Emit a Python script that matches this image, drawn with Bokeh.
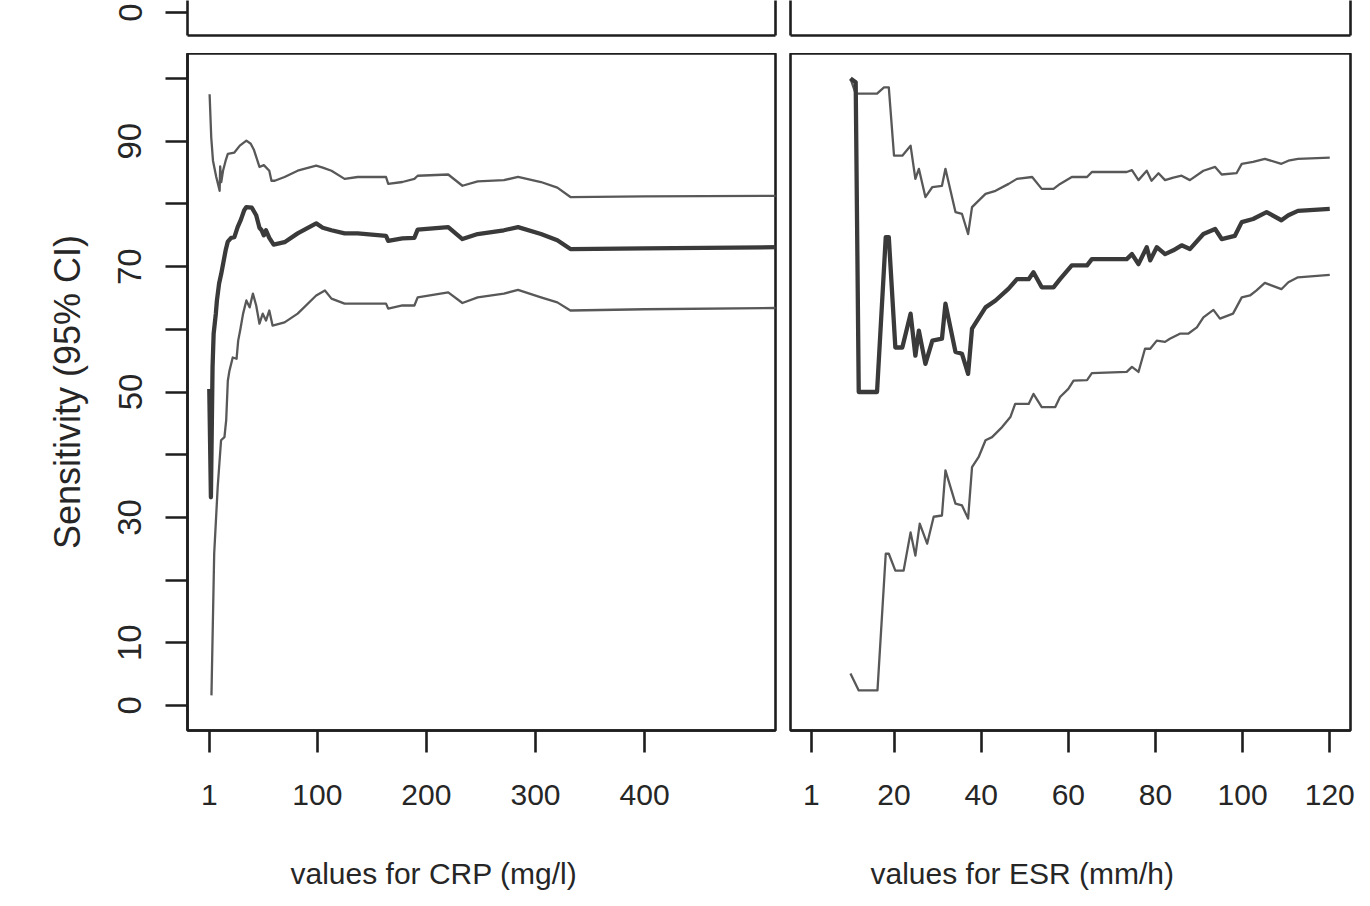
from bokeh.plotting import figure
from bokeh.layouts import column, row
from bokeh.models import Range1d, FixedTicker, LinearAxis, Title
from bokeh.embed import file_html
from bokeh.resources import INLINE

# ---------------- data ----------------
crp_ticks = [1, 100, 200, 300, 400]
esr_ticks = [1, 20, 40, 60, 80, 100, 120]
y_ticks = [0, 10, 20, 30, 40, 50, 60, 70, 80, 90, 100]
y_tick_labels = {0: "0", 10: "10", 20: "", 30: "30", 40: "", 50: "50", 60: "", 70: "70", 80: "", 90: "90", 100: ""}
top_ticks = [0]
crp_label = "values for CRP (mg/l)"
esr_label = "values for ESR (mm/h)"
y_label = "Sensitivity (95% CI)"

crp_mean_x = [1, 2.5, 4, 5, 7, 8, 10, 12, 16, 18, 21, 24, 27, 30, 33, 35, 40, 44, 47, 49, 51, 53, 56, 60,
              70, 82, 99, 105, 113, 125, 137, 163, 165, 178, 189, 192, 220, 233, 247, 271, 284, 305, 320,
              332, 400, 522]
crp_mean_y = [50.5, 33.2, 54, 59.3, 62.5, 64.6, 67.3, 68.9, 72.6, 74, 74.6, 74.7, 76.3, 77.5, 79, 79.5, 79.4,
              78.2, 76.2, 75.8, 75, 75.8, 74.6, 73.5, 73.9, 75.3, 76.9, 76.2, 75.8, 75.3, 75.3, 74.9, 74.1,
              74.5, 74.6, 75.9, 76.3, 74.4, 75.2, 75.8, 76.3, 75.2, 74.2, 72.8, 72.9, 73.1]

crp_up_x = [1.3, 2.8, 4.4, 7.4, 10.5, 11, 12, 13.6, 16, 18, 24, 29, 35, 39, 42, 47, 51, 56, 58, 61, 70, 82,
            99, 105, 113, 125, 137, 163, 165, 178, 189, 192, 220, 233, 247, 271, 284, 305, 320, 332, 400, 522]
crp_up_y = [97.5, 90.6, 86.9, 84.3, 82.1, 86, 83.5, 85.3, 86.9, 88, 88.2, 89.3, 90.1, 89.6, 88.6, 85.9, 86.2,
            85.3, 83.7, 83.7, 84.3, 85.3, 86.1, 85.8, 85.3, 84.0, 84.3, 84.3, 83.2, 83.5, 84.0, 84.5, 84.7,
            82.9, 83.6, 83.8, 84.3, 83.5, 82.6, 81.1, 81.2, 81.3]

crp_lo_x = [3, 5.5, 8.7, 11.8, 14.9, 16.5, 18, 19.5, 22.5, 26, 27.5, 29.5, 32, 35, 38, 41, 44, 47, 50, 53, 56,
            59, 70, 82, 99, 107, 113, 125, 163, 165, 178, 189, 192, 220, 233, 247, 271, 284, 305, 320, 332,
            400, 522]
crp_lo_y = [1.6, 24.2, 34.8, 42.3, 42.8, 45.5, 51.8, 53.4, 55.5, 55.3, 58.2, 60, 62.5, 64.6, 63.5, 65.7, 63.8,
            60.9, 62.5, 61.4, 63, 60.6, 61.1, 62.5, 65.4, 66.2, 64.9, 64.1, 64.1, 63.3, 63.8, 63.8, 65.1,
            65.9, 64.2, 65.1, 65.7, 66.3, 65.1, 64.3, 63.0, 63.2, 63.4]

esr_mean_x = [10, 11.2, 11.9, 16.1, 18.1, 18.8, 20.3, 21.9, 23.8, 24.9, 25.7, 27.2, 28.8, 31, 31.8, 34.1, 35.6,
              37, 37.9, 41, 43.3, 46.3, 48.2, 50.9, 52, 53.9, 56.6, 58.1, 60.8, 64.3, 65.4, 73.4, 74.6, 76.1,
              78, 78.8, 80.3, 82.2, 84.1, 86, 87.9, 91, 93.7, 95.2, 98.2, 99.8, 102.4, 105.5, 108.9, 110.5,
              112.7, 120]
esr_mean_y = [100, 99.4, 50, 50, 74.7, 74.7, 57.1, 57.1, 62.5, 55.8, 59.8, 54.5, 58.2, 58.5, 64.1, 56.4, 56.1,
              52.9, 60.1, 63.5, 64.6, 66.5, 68, 68, 69.1, 66.7, 66.7, 68, 70.2, 70.2, 71.2, 71.2, 72, 70.4,
              73.1, 71, 73.1, 72, 72.6, 73.4, 72.8, 75.2, 76, 74.4, 74.9, 77.1, 77.6, 78.7, 77.4, 78.2, 78.9,
              79.2]

esr_up_x = [10, 11.2, 16.1, 17.7, 18.8, 20, 21.9, 23.8, 24.9, 25.7, 27.2, 28.8, 31, 31.8, 34.1, 35.6, 37, 37.9,
            41, 43.3, 46.3, 48.2, 51.7, 53.9, 56.6, 58.1, 60.8, 64.3, 65.4, 73.4, 74.6, 76.1, 78, 79.1, 80.7,
            82.2, 84.1, 86, 87.9, 91, 93.7, 95.2, 98.6, 99.8, 102.4, 105.1, 108.9, 110.5, 112.7, 120]
esr_up_y = [100, 97.6, 97.6, 98.6, 98.6, 87.7, 87.7, 89.3, 84, 85.6, 81.1, 82.7, 82.9, 85.6, 78.7, 78.4, 75.2,
            79.5, 81.6, 82.1, 83.2, 84, 84.3, 82.4, 82.4, 83.2, 84.3, 84.3, 85.1, 85.1, 85.4, 83.8, 85.3, 83.7,
            84.9, 83.8, 84.2, 84.5, 83.8, 85.3, 85.9, 84.7, 84.9, 86.4, 86.7, 87.2, 86.4, 86.9, 87.2, 87.4]

esr_lo_x = [10, 11.9, 16.2, 18.1, 18.8, 20.3, 22.2, 23.8, 24.9, 25.9, 27.6, 29.1, 31, 31.8, 34.1, 35.6, 37, 37.9,
            39.4, 41, 42.5, 44.8, 46.7, 47.8, 50.9, 52, 53.9, 57, 58.1, 60, 61.2, 64.3, 65.4, 73.4, 74.6, 76.1,
            77.6, 78.8, 80.3, 82.2, 83.3, 85.6, 87.5, 89.5, 91, 93.3, 94.8, 97.8, 99.8, 101.7, 103.2, 105.1,
            106.6, 108.9, 110.5, 112.7, 120]
esr_lo_y = [5.1, 2.4, 2.4, 24.2, 24.2, 21.5, 21.5, 27.6, 23.9, 29, 25.8, 30.1, 30.3, 37.5, 32.2, 31.9, 29.8, 38,
            39.6, 42.3, 42.8, 44.4, 46, 48.1, 48.1, 49.7, 47.6, 47.6, 49.2, 50.5, 51.8, 51.9, 53, 53.2, 54,
            53.2, 56.9, 56.9, 58.2, 58, 58.5, 59.3, 59.3, 60.3, 61.9, 63.1, 61.7, 62.5, 65.1, 65.4, 66.2, 67.4,
            67, 66.4, 67.5, 68.3, 68.7]

# ---------------- styling ----------------
INK = "#1e1e1e"
TEXT = "#262626"
MEAN_COLOR = "#3a3a3a"
CI_COLOR = "#585858"
FONT = "Liberation Sans"
LW = 2.6


def make_fig(w, h, xr, yr, mbl, mbr, mbt, mbb):
    p = figure(width=w, height=h, x_range=xr, y_range=yr, output_backend="svg",
               toolbar_location=None, x_axis_location=None, y_axis_location=None,
               min_border_left=mbl, min_border_right=mbr, min_border_top=mbt, min_border_bottom=mbb)
    p.xgrid.visible = False
    p.ygrid.visible = False
    p.background_fill_color = "white"
    p.border_fill_color = "white"
    return p


def style_axis(ax, size, standoff):
    ax.axis_line_color = INK
    ax.axis_line_width = LW
    ax.major_tick_line_color = INK
    ax.major_tick_line_width = LW
    ax.major_tick_out = 22
    ax.major_tick_in = 0
    ax.minor_tick_out = 0
    ax.minor_tick_in = 0
    ax.minor_tick_line_color = None
    ax.major_label_text_font = FONT
    ax.major_label_text_font_size = f"{size}px"
    ax.major_label_text_color = TEXT
    ax.major_label_standoff = standoff


def blank_axis(p, side):
    ax = LinearAxis(ticker=FixedTicker(ticks=[]), axis_line_color=INK, axis_line_width=LW,
                    major_tick_line_color=None, minor_tick_line_color=None,
                    major_label_text_font_size="0px", major_tick_out=0, major_tick_in=0,
                    minor_tick_out=0, minor_tick_in=0)
    p.add_layout(ax, side)


def y_axis(p, ticks, overrides, label):
    ya = LinearAxis(ticker=FixedTicker(ticks=ticks), major_label_overrides=overrides)
    style_axis(ya, 33, 24)
    ya.major_label_orientation = "vertical"
    if label:
        ya.axis_label = label
        ya.axis_label_text_font = FONT
        ya.axis_label_text_font_size = "36px"
        ya.axis_label_text_font_style = "normal"
        ya.axis_label_text_color = TEXT
        ya.axis_label_standoff = 28
    p.add_layout(ya, "left")


def x_axis(p, ticks):
    xa = LinearAxis(ticker=FixedTicker(ticks=ticks))
    style_axis(xa, 30, 32)
    p.add_layout(xa, "below")


def label_fig(w, xr, mbl, mbr, text, offset):
    p = make_fig(w, 71, xr, Range1d(0, 1), mbl, mbr, 70, 0)
    p.outline_line_color = None
    p.add_layout(Title(text=text, align="left", offset=offset, text_font=FONT,
                       text_font_size="30px", text_font_style="normal", text_color=TEXT,
                       standoff=5), "above")
    return p


def add_lines(p, mx, my, ux, uy, lx, ly):
    p.line(ux, uy, line_color=CI_COLOR, line_width=2.3, line_join="round")
    p.line(lx, ly, line_color=CI_COLOR, line_width=2.3, line_join="round")
    p.line(mx, my, line_color=MEAN_COLOR, line_width=4.3, line_join="round")


CRP_X = (-18.96, 519.96)
ESR_X = (-3.76, 124.76)
MAIN_Y = (-4, 104)
TOP_Y = (-3.67, 1.91)

# top strip (cut-off panels above)
pTL = make_fig(778, 53, Range1d(*CRP_X), Range1d(*TOP_Y), 187, 3, 0, 18)
pTL.outline_line_color = None
y_axis(pTL, top_ticks, {0: "0"}, None)
blank_axis(pTL, "below")
blank_axis(pTL, "right")

pTR = make_fig(584, 53, Range1d(*ESR_X), Range1d(*TOP_Y), 12, 12, 0, 18)
pTR.outline_line_color = None
blank_axis(pTR, "left")
blank_axis(pTR, "below")
blank_axis(pTR, "right")

# main panels
pL = make_fig(778, 769, Range1d(*CRP_X), Range1d(*MAIN_Y), 187, 3, 0, 92)
pL.outline_line_color = INK
pL.outline_line_width = LW
y_axis(pL, y_ticks, y_tick_labels, y_label)
x_axis(pL, crp_ticks)
add_lines(pL, crp_mean_x, crp_mean_y, crp_up_x, crp_up_y, crp_lo_x, crp_lo_y)

pR = make_fig(584, 769, Range1d(*ESR_X), Range1d(*MAIN_Y), 12, 12, 0, 92)
pR.outline_line_color = INK
pR.outline_line_width = LW
x_axis(pR, esr_ticks)
add_lines(pR, esr_mean_x, esr_mean_y, esr_up_x, esr_up_y, esr_lo_x, esr_lo_y)

# x-axis titles (R places them left of the panel centre)
labL = label_fig(778, Range1d(*CRP_X), 187, 3, crp_label, 103)
labR = label_fig(584, Range1d(*ESR_X), 12, 12, esr_label, 80)

layout = column(row(pTL, pTR), row(pL, pR), row(labL, labR))

open("out.html", "w").write(file_html(layout, INLINE))
